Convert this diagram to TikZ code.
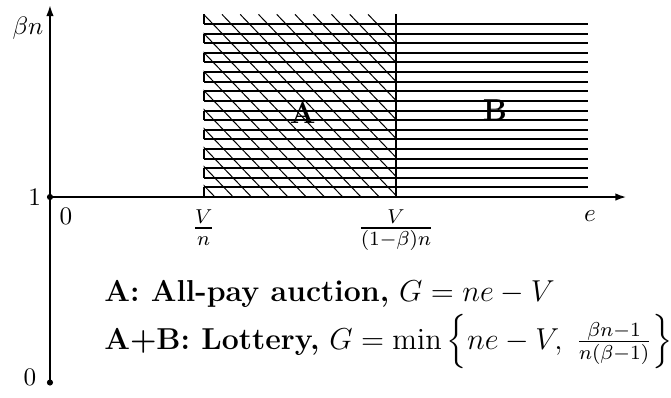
\documentclass[tikz,border=0pt]{standalone}
\usepackage{amsmath,amssymb}
\usetikzlibrary{arrows.meta}

\begin{document}
\begin{tikzpicture}[x=0.134cm,y=0.134cm]
\useasboundingbox (-5.2,-20.81) rectangle (64.62,20.5);
\coordinate (O) at (0,0);
\coordinate (Z) at (0,-19.3);
\coordinate (Ytop) at (0,20);
\coordinate (Xend) at (60,0);
\coordinate (P) at (16,-0.4);
\coordinate (Q) at (36,-0.4);
\coordinate (Qbot) at (36,0);
\coordinate (Qtop) at (36,19);
% horizontal lines, A and B
\foreach \k in {1,...,18}
  \draw[black, thick] (16,\k) -- (56,\k);
\foreach \k in {0,2,...,18}
  \draw[black, thick] (16,\k) -- (16,\k+1);
% diagonal lines, A only
\begin{scope}
\clip (16,0) rectangle (36,19);
\foreach \n in {-10,...,9}
  \draw (16+1.9*\n,19) -- ++(20,-20.8);
\end{scope}
\draw[black, thick] (Qbot) -- (Qtop);
% axes
\draw[black, thick, -{Latex[length=4.5pt,width=3pt]}] (O) -- (Xend);
\draw[black, thick, -{Latex[length=4.5pt,width=3pt]}] (Z) -- (Ytop);
\draw[fill=black] (O) circle (1pt);
\draw[fill=black] (Z) circle (1pt);
\node[] (betan) at (-2.3,17.6) {$\beta n$};
\node[left] (one) at (O) {$1$};
\node[] (zero) at (1.66,-2.0) {$0$};
\node[] (zerob) at (-2.08,-18.8) {$0$};
\node[] (elab) at (56.2,-2.0) {$e$};
\node[below] (Vn) at (P) {\large$\frac{V}{n}$};
\node[below] (Vbn) at (Q) {\large$\frac{V}{(1-\beta)n}$};
\node[] (A) at (26.3,8.74) {\large\bfseries A};
\node[] (B) at (46.3,9.05) {\large\bfseries B};
\node[anchor=base west, inner sep=0pt] (legA) at (5.6,-10.85)
  {\large\textbf{A: All-pay auction,} $G=ne-V$};
\node[anchor=base west, inner sep=0pt] (legAB) at (5.6,-15.85)
  {\large\textbf{A+B: Lottery,} $G=\min\left\{ne-V,\;\frac{\beta n-1}{n(\beta-1)}\right\}$};
\end{tikzpicture}
\end{document}
